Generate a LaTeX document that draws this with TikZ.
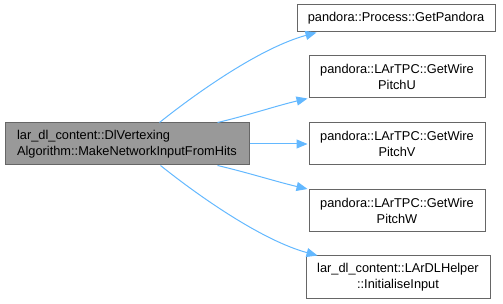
\documentclass[tikz,border=0pt]{standalone}
\usepackage{fontspec}
\setmainfont{Liberation Sans}
\usetikzlibrary{arrows.meta}
\definecolor{edgeblue}{HTML}{63B8FF}
\definecolor{boxline}{HTML}{666666}
\definecolor{mainfill}{HTML}{999999}
\begin{document}
\begin{tikzpicture}[x=1pt,y=-1pt,
  fn/.style={draw=boxline,line width=1pt,fill=white,inner sep=0pt,
    align=center,font=\fontsize{12.8}{16}\selectfont},
  mainfn/.style={fn,fill=mainfill,align=left},
  call/.style={draw=edgeblue,line width=1pt,
    -{Triangle[length=11pt,width=9pt]}}]
\useasboundingbox (0,0) rectangle (503,304);

% caller
\node[mainfn,minimum width=244pt,minimum height=42pt] (main) at (127,144)
  {lar\_dl\_content::DlVertexing\\Algorithm::MakeNetworkInputFromHits};

% callees
\node[fn,minimum width=198pt,minimum height=27pt] (proc) at (396,18.5)
  {pandora::Process::GetPandora};
\node[fn,minimum width=176pt,minimum height=42pt] (pitchu) at (397,77)
  {pandora::LArTPC::GetWire\\PitchU};
\node[fn,minimum width=176pt,minimum height=42pt] (pitchv) at (397,144)
  {pandora::LArTPC::GetWire\\PitchV};
\node[fn,minimum width=176pt,minimum height=42pt] (pitchw) at (397,210.5)
  {pandora::LArTPC::GetWire\\PitchW};
\node[fn,minimum width=184pt,minimum height=42pt] (init) at (398,277)
  {lar\_dl\_content::LArDLHelper\\::InitialiseInput};

% calls
\draw[call] ([xshift=155pt]main.north west) .. controls +(40,-32) and +(-55,15) ..
  ([xshift=20pt]proc.south west);
\draw[call] ([xshift=213pt]main.north west) .. controls +(30,-7) and +(-30,7) ..
  ([xshift=-1pt]pitchu.south west);
\draw[call] (main.east) -- ([xshift=-1pt]pitchv.west);
\draw[call] ([xshift=213pt]main.south west) .. controls +(30,7) and +(-30,-7) ..
  ([xshift=-1pt]pitchw.north west);
\draw[call] ([xshift=156pt]main.south west) .. controls +(40,32) and +(-55,-15) ..
  ([xshift=12pt]init.north west);
\end{tikzpicture}
\end{document}
